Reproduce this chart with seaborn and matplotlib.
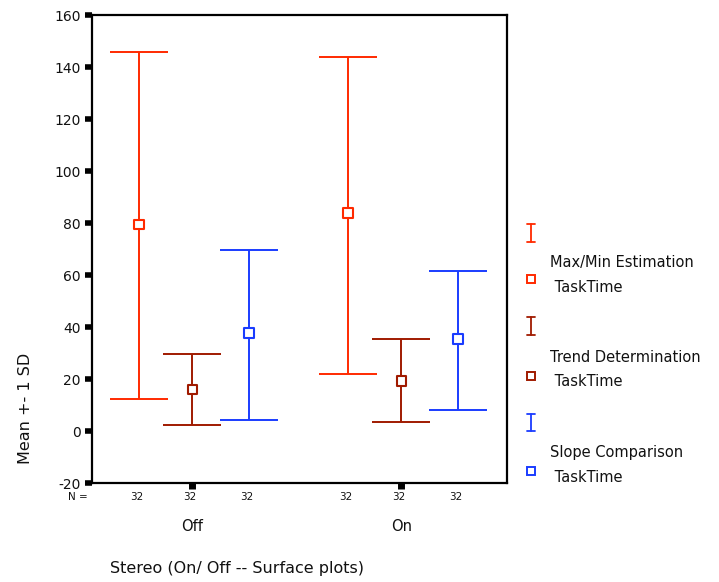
import matplotlib
matplotlib.use("Agg")
import matplotlib.pyplot as plt
import seaborn as sns
import pandas as pd
from matplotlib.lines import Line2D

# ---- data ----
groups = ["Off", "On"]
tasks = ["Max/Min Estimation\n TaskTime", "Trend Determination\n TaskTime", "Slope Comparison\n TaskTime"]
colors = ["#ff2a00", "#a01a00", "#1a3cff"]
mean_off = [79.5, 16.0, 37.8]
mean_on = [83.8, 19.3, 35.3]
low_off = [12.2, 2.5, 4.2]
low_on = [21.8, 3.4, 8.2]
high_off = [146.0, 29.8, 69.7]
high_on = [143.8, 35.4, 61.6]
n_off = [32, 32, 32]
n_on = [32, 32, 32]
yticks = [-20, 0, 20, 40, 60, 80, 100, 120, 140, 160]

rows = []
for gi, (g, means, lows, highs, ns) in enumerate(
        [("Off", mean_off, low_off, high_off, n_off), ("On", mean_on, low_on, high_on, n_on)]):
    for ti, t in enumerate(tasks):
        rows.append(dict(group=g, gidx=gi, task=t, tidx=ti, mean=means[ti],
                         lo=lows[ti], hi=highs[ti], n=ns[ti]))
df = pd.DataFrame(rows)
offsets = [-0.255, 0.0, 0.27]
df["x"] = df["gidx"] + df["tidx"].map(lambda i: offsets[i])

sns.set_style("white")
plt.rcParams["font.family"] = ["DejaVu Sans"]
plt.rcParams["text.color"] = "#111111"

fig = plt.figure(figsize=(7.19, 5.82), dpi=100)
ax = fig.add_axes([0.128, 0.170, 0.577, 0.804])

for ti, t in enumerate(tasks):
    sub = df[df["tidx"] == ti]
    ax.errorbar(sub["x"], sub["mean"],
                yerr=[sub["mean"] - sub["lo"], sub["hi"] - sub["mean"]],
                fmt="none", ecolor=colors[ti], elinewidth=1.4, capsize=21, capthick=1.4, zorder=2)

sns.scatterplot(data=df, x="x", y="mean", hue="task", palette=colors, marker="s",
                s=48, linewidth=1.5, legend=False, ax=ax, zorder=3)
for coll in ax.collections:
    fc = coll.get_facecolors()
    if len(fc):
        coll.set_edgecolors(fc)
        coll.set_facecolors("white")

ax.set_xlim(-0.48, 1.505)
ax.set_ylim(-20, 160)
ax.set_yticks(yticks)
ax.set_yticklabels([str(v) for v in yticks], fontsize=10)
ax.set_xticks([0, 1])
ax.set_xticklabels(groups, fontsize=10.5)
ax.tick_params(axis="x", bottom=True, direction="out", length=4, width=5, pad=22, colors="black")
ax.tick_params(axis="y", left=True, direction="out", length=5, width=4, pad=3, colors="black")
for lab in ax.get_xticklabels() + ax.get_yticklabels():
    lab.set_color("#111111")
for sp in ax.spines.values():
    sp.set_visible(True)
    sp.set_color("black")
    sp.set_linewidth(1.6)
ax.set_xlabel("")
ax.set_ylabel("")

# N row
trans = ax.get_xaxis_transform()
ax.text(-0.50, -0.03, "N =", transform=trans, ha="right", va="center", fontsize=7.5)
for _, r in df.iterrows():
    ax.text(r["x"] - 0.01, -0.03, str(r["n"]), transform=trans, ha="center", va="center", fontsize=7.5)

fig.text(0.33, 0.024, "Stereo (On/ Off -- Surface plots)", ha="center", va="center", fontsize=11.5)
fig.text(0.035, 0.298, "Mean +- 1 SD", rotation=90, ha="center", va="center", fontsize=11.5)

# legend drawn at right
ybars = [(224, 242), (317, 335), (414, 431)]
ysq = [279, 376, 471]
ytxt = [(262, 287), (357, 382), (452, 477)]
W, H = 719, 582
for ti in range(3):
    x0 = 531 / W
    y1, y2 = 1 - ybars[ti][0] / H, 1 - ybars[ti][1] / H
    fig.add_artist(Line2D([x0, x0], [y1, y2], color=colors[ti], lw=1.3))
    for yy in (y1, y2):
        fig.add_artist(Line2D([x0 - 4 / W, x0 + 4 / W], [yy, yy], color=colors[ti], lw=1.3))
    fig.add_artist(Line2D([x0], [1 - ysq[ti] / H], marker="s", markersize=6, markerfacecolor="none",
                          markeredgecolor=colors[ti], markeredgewidth=1.4, linestyle="none"))
    l1, l2 = tasks[ti].split("\n")
    fig.text(550 / W, 1 - ytxt[ti][0] / H, l1, ha="left", va="center", fontsize=10.5)
    fig.text(550 / W, 1 - ytxt[ti][1] / H, l2, ha="left", va="center", fontsize=10.5)

fig.savefig("out.png", dpi=100)
